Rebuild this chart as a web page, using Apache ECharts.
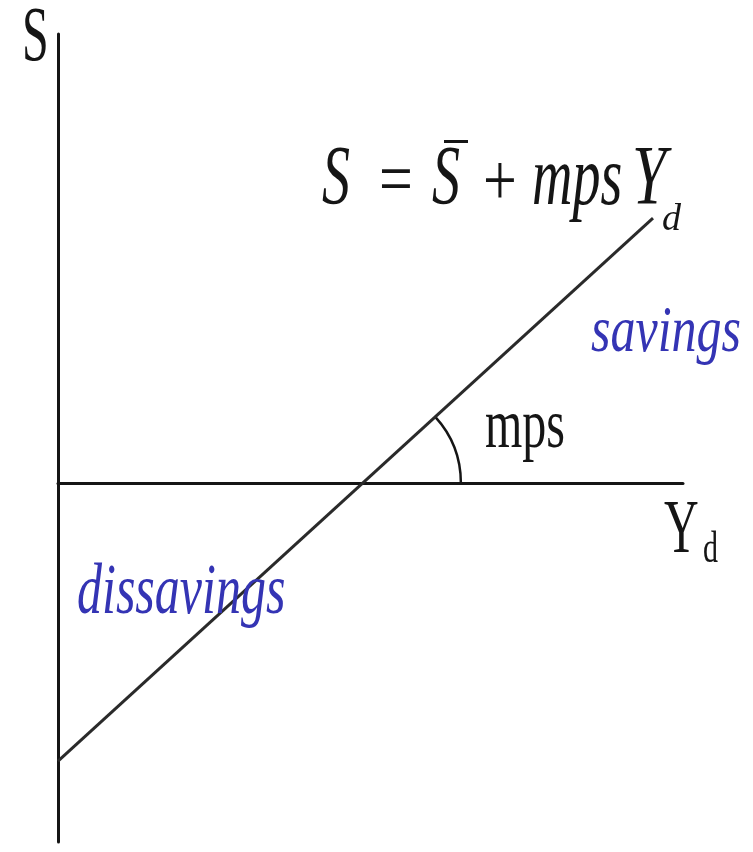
<!DOCTYPE html>
<html>
<head>
<meta charset="utf-8">
<title>Savings function</title>
<script src="https://cdn.jsdelivr.net/npm/echarts@6/dist/echarts.min.js"></script>
<style>
  html, body { margin: 0; padding: 0; background: #fff; }
  #chart { width: 753px; height: 852px; }
</style>
</head>
<body>
<div id="chart"></div>
<script>
// Disposable income (Yd) and savings (S) at the two ends of the savings line
const ydValues = [0, 9.52];
const sValues = [-6.2, 5.9];

// Axis extents
const xRange = [0, 10];
const yRange = [-8, 10];

const SERIF = '"Liberation Serif", "Times New Roman", serif';
const BLUE = '#3434b4';
const INK = '#151515';

const chart = echarts.init(document.getElementById('chart'), null, { renderer: 'canvas' });

const linePoints = ydValues.map((x, i) => [x, sValues[i]]);
// where the savings line crosses S = 0 (break-even income)
const slope = (sValues[1] - sValues[0]) / (ydValues[1] - ydValues[0]);
const breakEven = ydValues[0] - sValues[0] / slope;

// text placed by its left edge and baseline, stretched vertically
function label(text, left, baseline, size, sy, opts) {
  opts = opts || {};
  return {
    type: 'text',
    x: left,
    y: baseline - 0.33 * size * sy,
    scaleY: sy,
    scaleX: opts.sx || 1,
    z: 10,
    style: {
      text: text,
      fontFamily: SERIF,
      fontSize: size,
      fontStyle: opts.italic ? 'italic' : 'normal',
      fill: opts.color || INK,
      align: 'left',
      verticalAlign: 'middle'
    }
  };
}

const option = {
  backgroundColor: '#ffffff',
  animation: false,
  grid: { left: 58, top: 34, width: 625, height: 808, containLabel: false },
  xAxis: {
    type: 'value', min: xRange[0], max: xRange[1],
    axisLine: { show: true, onZero: true, lineStyle: { color: INK, width: 3 } },
    axisTick: { show: false }, axisLabel: { show: false }, splitLine: { show: false }
  },
  yAxis: {
    type: 'value', min: yRange[0], max: yRange[1],
    axisLine: { show: true, onZero: false, lineStyle: { color: INK, width: 3 } },
    axisTick: { show: false }, axisLabel: { show: false }, splitLine: { show: false }
  },
  series: [
    {
      type: 'line',
      data: linePoints,
      symbol: 'none',
      lineStyle: { color: '#2a2a2a', width: 3 }
    },
    {
      // angle marker between the savings line and the income axis
      type: 'custom',
      data: [[breakEven, 0]],
      renderItem: function (params, api) {
        const c = api.coord([api.value(0), api.value(1)]);
        const p1 = api.coord(linePoints[0]);
        const p2 = api.coord(linePoints[1]);
        const ang = Math.atan2(p2[1] - p1[1], p2[0] - p1[0]);
        return {
          type: 'arc',
          shape: { cx: c[0], cy: c[1], r: 98, startAngle: ang, endAngle: 0, clockwise: true },
          style: { stroke: INK, lineWidth: 2.5, fill: null }
        };
      }
    }
  ],
  graphic: [
    // axis titles
    label('S', 22, 65, 48, 1.65),
    label('Y', 664, 557, 48, 1.6),
    label('d', 703, 565, 30, 1.5),
    // savings function
    label('S', 322, 210, 56, 1.52, { italic: true }),
    label('=', 379, 208, 60, 1.25),
    label('S', 432, 210, 56, 1.52, { italic: true }),
    { type: 'rect', shape: { x: 444, y: 140, width: 24, height: 3 }, style: { fill: INK } },
    label('+', 483, 210, 60, 1.25),
    label('mps', 532, 210, 56, 1.52, { italic: true }),
    label('Y', 632, 210, 56, 1.52, { italic: true, sx: 1.1 }),
    label('d', 662, 233, 38, 1.0, { italic: true }),
    // slope marker
    label('mps', 485, 452, 48, 1.45),
    // regions
    label('savings', 591, 355, 50, 1.3, { italic: true, color: BLUE }),
    label('dissavings', 77, 618, 50, 1.45, { italic: true, color: BLUE })
  ]
};

chart.setOption(option);
</script>
</body>
</html>
